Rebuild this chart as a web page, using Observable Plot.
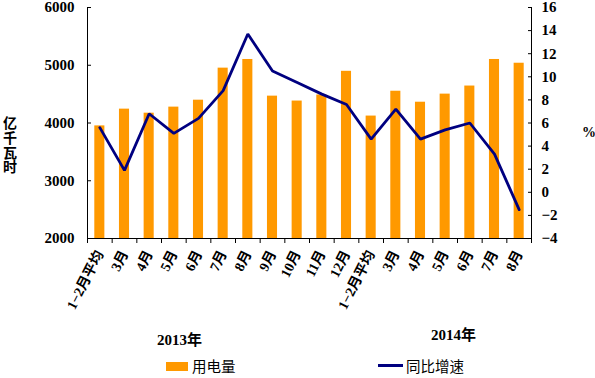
<!DOCTYPE html>
<html>
<head>
<meta charset="utf-8">
<script src="https://cdn.jsdelivr.net/npm/d3@7"></script>
<script src="https://cdn.jsdelivr.net/npm/@observablehq/plot@0.6"></script>
<style>
  html, body { margin: 0; padding: 0; background: #fff; }
  #wrap { position: relative; width: 595px; height: 378px; overflow: hidden; }
  #wrap svg { position: absolute; left: 0; top: 0; }
  .ov { position: absolute; white-space: nowrap; color: #000; }
  .serif { font-family: "Liberation Serif", "Noto Sans CJK SC", serif; font-weight: bold; }
  .sans { font-family: "Noto Sans CJK SC", sans-serif; }
</style>
</head>
<body>
<div id="wrap"></div>
<script>
const categories = ["1−2月平均","3月","4月","5月","6月","7月","8月","9月","10月","11月","12月","1−2月平均","3月","4月","5月","6月","7月","8月"];
const power = [3950, 4240, 4170, 4275, 4395, 4950, 5100, 4465, 4380, 4485, 4895, 4120, 4550, 4360, 4500, 4640, 5100, 5035];
const growth = [5.6, 1.9, 6.8, 5.1, 6.4, 8.8, 13.7, 10.5, 9.5, 8.5, 7.6, 4.6, 7.2, 4.6, 5.4, 6.0, 3.3, -1.5];
const leftTicks = [2000, 3000, 4000, 5000, 6000];
const rightTicks = [-4, -2, 0, 2, 4, 6, 8, 10, 12, 14, 16];
const years = ["2013年", "2014年"];
const legendLabels = ["用电量", "同比增速"];

const toLeft = v => 2000 + (v + 4) * 200;
const fromLeft = y => (y - 2000) / 200 - 4;
const idx = d3.range(categories.length);
const fmtMinus = v => (v < 0 ? "−" + Math.abs(v) : String(v));

const chart = Plot.plot({
  width: 595,
  height: 378,
  marginLeft: 87,
  marginRight: 64,
  marginTop: 7,
  marginBottom: 140,
  style: { fontFamily: '"Liberation Serif", "Noto Sans CJK SC", serif', fontWeight: "bold", color: "#000", background: "transparent" },
  x: { domain: [0, categories.length] },
  y: { domain: [2000, 6000] },
  marks: [
    Plot.rectY(idx, { x1: i => i, x2: i => i + 1, y1: 2000, y2: i => power[i], fill: "#ff9900", insetLeft: 7.3, insetRight: 7.3 }),
    Plot.line(idx, { x: i => i + 0.5, y: i => toLeft(growth[i]), stroke: "#000080", strokeWidth: 2.8, strokeLinejoin: "miter" }),
    Plot.ruleY([2000], { stroke: "#000" }),
    Plot.ruleX([0, categories.length], { stroke: "#000" }),
    Plot.axisX({ ticks: d3.range(categories.length + 1), tickSize: 5, tickFormat: () => "", label: null }),
    Plot.axisX({ ticks: idx.map(i => i + 0.5), tickSize: 0, tickPadding: 13, tickRotate: -63, tickFormat: d => categories[Math.round(d - 0.5)], fontSize: 14, fontWeight: "bold", label: null }),
    Plot.axisY({ anchor: "left", ticks: leftTicks, tickSize: -4, tickPadding: 17, tickFormat: d => String(d), fontSize: 15, fontWeight: "bold", label: null }),
    Plot.axisY({ anchor: "right", ticks: rightTicks.map(toLeft), tickSize: -4, tickPadding: 14, tickFormat: d => fmtMinus(Math.round(fromLeft(d))), fontSize: 15, fontWeight: "bold", label: null })
  ]
});

const wrap = document.getElementById("wrap");
wrap.appendChild(chart);

function addDiv(html, cls, css) {
  const d = document.createElement("div");
  d.className = "ov " + cls;
  d.innerHTML = html;
  Object.assign(d.style, css);
  wrap.appendChild(d);
  return d;
}

// left axis title (vertical, upright characters)
addDiv("亿千瓦时", "sans", { left: "2px", top: "116px", fontSize: "14px", lineHeight: "16px", fontWeight: "bold", writingMode: "vertical-rl", textOrientation: "upright", letterSpacing: "0.6px" });
// right axis title
addDiv("%", "serif", { left: "582px", top: "125px", fontSize: "14px" });
// year labels
addDiv(years[0], "serif", { left: "157px", top: "328px", fontSize: "15px" });
addDiv(years[1], "serif", { left: "431px", top: "323px", fontSize: "15px" });
// legend
addDiv("", "", { left: "166px", top: "362px", width: "22px", height: "9px", background: "#ff9900" });
addDiv(legendLabels[0], "sans", { left: "192px", top: "356px", fontSize: "14.5px", lineHeight: "20px" });
addDiv("", "", { left: "378px", top: "364px", width: "25px", height: "3px", background: "#000080" });
addDiv(legendLabels[1], "sans", { left: "406px", top: "356px", fontSize: "14.5px", lineHeight: "20px" });
</script>
</body>
</html>
